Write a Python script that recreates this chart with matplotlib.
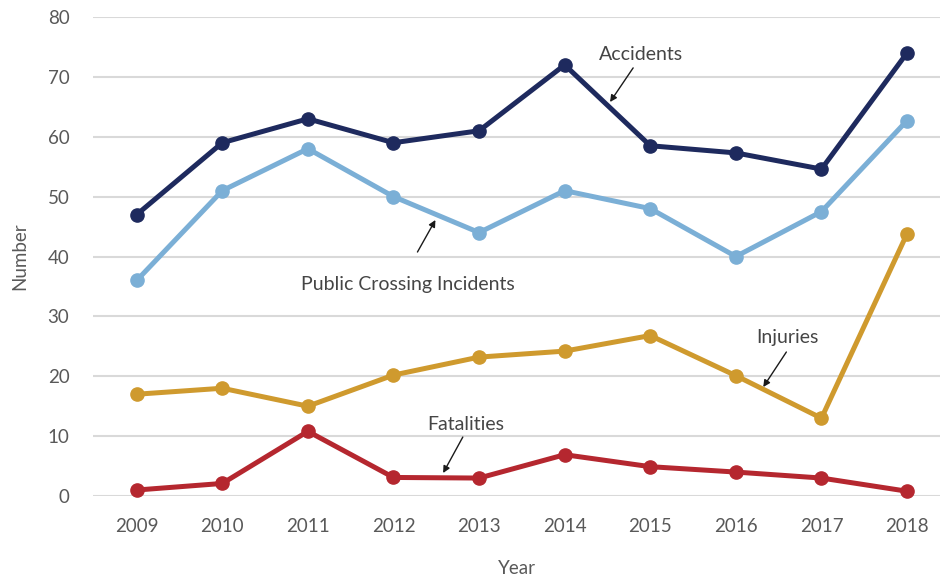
import matplotlib
matplotlib.use("Agg")
import matplotlib.pyplot as plt

plt.rcParams['font.family'] = ['Lato', 'DejaVu Sans']

years = ["2009", "2010", "2011", "2012", "2013", "2014", "2015", "2016", "2017", "2018"]
accidents = [47, 59, 63, 59, 61, 72, 58.5, 57.3, 54.6, 74]
public_crossing = [36, 51, 58, 50, 44, 51, 48, 40, 47.5, 62.7]
injuries = [17, 18, 15, 20.2, 23.2, 24.2, 26.8, 20.1, 13, 43.8]
fatalities = [1, 2.1, 10.8, 3.1, 3, 6.9, 4.9, 4, 3, 0.8]
yticks = [0, 10, 20, 30, 40, 50, 60, 70, 80]

series = [
    (accidents, "#1E2A5E"),
    (public_crossing, "#7BAFD6"),
    (injuries, "#CF9A2E"),
    (fatalities, "#B5272F"),
]

fig = plt.figure(figsize=(9.4, 5.8), dpi=100)
ax = fig.add_axes([0.099, 0.1448, 0.901, 0.8259])

x = list(range(len(years)))
for vals, color in series:
    ax.plot(x, vals, color=color, lw=3.6, marker='o', markersize=9.5,
            solid_capstyle='round', clip_on=False, zorder=3)

ax.set_xlim(-0.51, 9.385)
ax.set_ylim(0, 80)
ax.set_yticks(yticks)
ax.set_xticks(x)
ax.set_xticklabels(years)
ax.yaxis.grid(True, color="#D9D9D9", lw=1.5)
ax.set_axisbelow(True)
for s in ax.spines.values():
    s.set_visible(False)
ax.tick_params(length=0, labelsize=13.5, colors="#595959")
ax.tick_params(axis='x', pad=16)
ax.tick_params(axis='y', pad=17)
ax.set_xlabel("Year", fontsize=13.5, color="#595959", labelpad=18)
ax.set_ylabel("Number", fontsize=13.5, color="#595959", labelpad=14)

notes = [
    ("Accidents", (5.89, 73.8), (5.80, 71.5), (5.53, 65.8)),
    ("Public Crossing Incidents", (3.17, 35.4), (3.28, 40.75), (3.49, 46.1)),
    ("Injuries", (7.60, 26.4), (7.59, 24.05), (7.32, 18.2)),
    ("Fatalities", (3.85, 12.0), (3.81, 9.85), (3.58, 3.84)),
]
for label, tpos, tail, head in notes:
    ax.text(*tpos, label, ha='center', va='center', fontsize=14, color="#454545")
    ax.annotate("", xy=head, xytext=tail,
                arrowprops=dict(arrowstyle='-|>', color="#1A1A1A", lw=1.0,
                                mutation_scale=10, shrinkA=0, shrinkB=0))

fig.savefig("out.png", dpi=100)
